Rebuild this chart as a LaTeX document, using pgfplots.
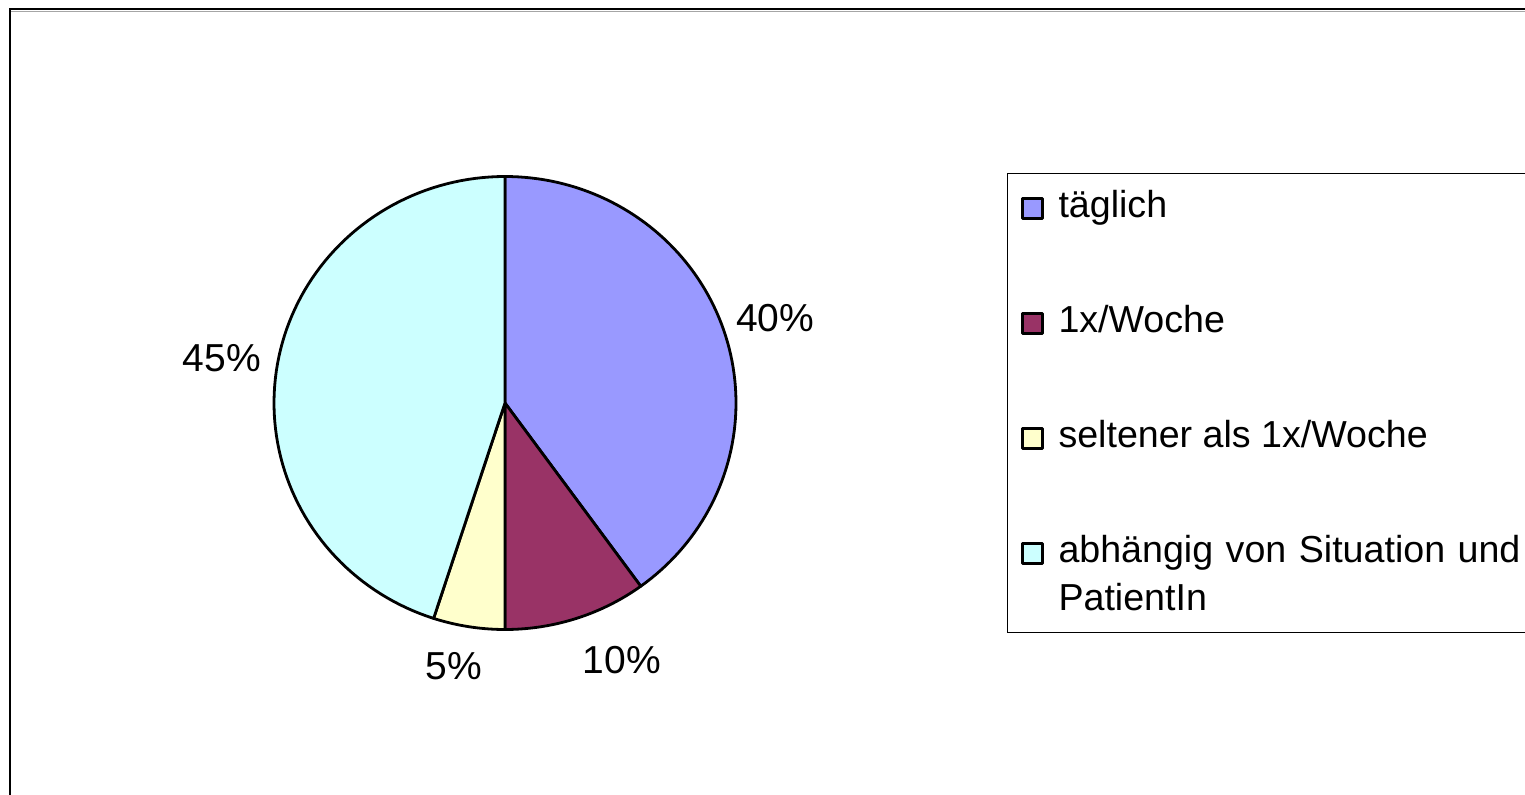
\documentclass[border=0pt]{standalone}
\usepackage{pgfplots}
\pgfplotsset{compat=1.18}
\usepackage{pgfplotstable}
\usepackage{fontspec}
\setmainfont{Liberation Sans}
\definecolor{cA}{HTML}{9999FF}
\definecolor{cB}{HTML}{993366}
\definecolor{cC}{HTML}{FFFFCC}
\definecolor{cD}{HTML}{CCFFFF}
\pgfplotstableread{
label value
taeglich 40
woche 10
seltener 5
abhaengig 45
}\piedata
\pgfplotstablegetelem{0}{value}\of\piedata \let\vA\pgfplotsretval
\pgfplotstablegetelem{1}{value}\of\piedata \let\vB\pgfplotsretval
\pgfplotstablegetelem{2}{value}\of\piedata \let\vC\pgfplotsretval
\pgfplotstablegetelem{3}{value}\of\piedata \let\vD\pgfplotsretval
\pgfmathsetmacro{\aZero}{90}
\pgfmathsetmacro{\aOne}{\aZero-3.6*\vA}
\pgfmathsetmacro{\aTwo}{\aOne-3.6*\vB}
\pgfmathsetmacro{\aThree}{\aTwo-3.6*\vC}
\pgfmathsetmacro{\aFour}{\aThree-3.6*\vD}
\pgfplotsset{
  pielegend/.style={legend image code/.code={\draw[fill=#1,draw=black,line width=1.5pt,line join=round] (0.75pt,-0.75pt) rectangle (10.75pt,9.25pt);}},
  wedge/.style={fill=#1, draw=black, line width=1.4pt, line join=round, samples=90, variable=\t, mark=none, no markers}
}
\begin{document}
\begin{tikzpicture}
\path[use as bounding box] (0,0) rectangle (762.5pt,-397.5pt);
\draw[gray!70, line width=0.6pt] (5.2pt,-5.6pt) -- (780pt,-5.6pt);
\draw[black, line width=1pt] (4.75pt,-420pt) -- (4.75pt,-4.75pt) -- (780pt,-4.75pt);
\begin{axis}[
  at={(252.5pt,-201.5pt)}, anchor=origin,
  x=115.5pt, y=113.25pt,
  xmin=-1, xmax=1, ymin=-1, ymax=1,
  hide axis, clip=false,
  legend style={at={(1.5866,1.0077)}, anchor=north west, draw=black, line width=0.5pt,
    inner xsep=6.5pt, inner ysep=8pt, row sep=39pt, column sep=7.5pt,
    cells={anchor=base west}, nodes={inner sep=0pt},
    font=\fontsize{18.8}{24}\selectfont},
]
\addplot[wedge=cA, pielegend=cA, domain=\aOne:\aZero] ({cos(\t)},{sin(\t)}) -- (0,0) -- cycle;
\addlegendentry[text height=13.9pt, text depth=4.6pt]{täglich}
\addplot[wedge=cB, pielegend=cB, domain=\aTwo:\aOne] ({cos(\t)},{sin(\t)}) -- (0,0) -- cycle;
\addlegendentry[text height=13.9pt, text depth=4.6pt]{1x/Woche}
\addplot[wedge=cC, pielegend=cC, domain=\aThree:\aTwo] ({cos(\t)},{sin(\t)}) -- (0,0) -- cycle;
\addlegendentry[text height=13.9pt, text depth=4.6pt]{seltener als 1x/Woche}
\addplot[wedge=cD, pielegend=cD, domain=\aFour:\aThree] ({cos(\t)},{sin(\t)}) -- (0,0) -- cycle;
\addlegendentry[align=left, text width=300pt, text height=13.9pt, text depth=27pt]{abhängig von Situation und\\PatientIn}
\node[font=\fontsize{19.5}{22}\selectfont] at (axis cs:1.169,0.375) {40\%};
\node[font=\fontsize{19.5}{22}\selectfont] at (axis cs:0.506,-1.135) {10\%};
\node[font=\fontsize{19.5}{22}\selectfont] at (axis cs:-0.221,-1.161) {5\%};
\node[font=\fontsize{19.5}{22}\selectfont] at (axis cs:-1.225,0.199) {45\%};
\end{axis}
\end{tikzpicture}
\end{document}
